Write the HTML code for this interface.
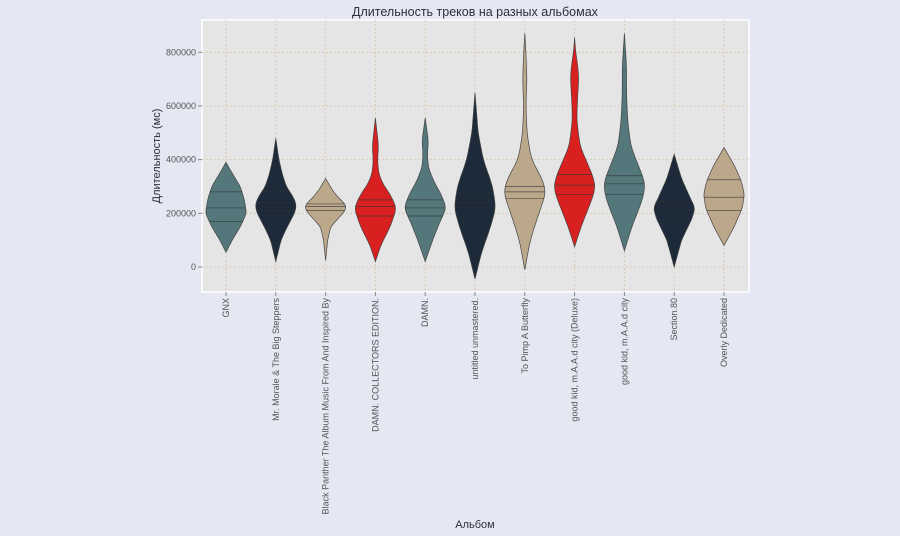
<!DOCTYPE html>
<html><head><meta charset="utf-8"><style>
html,body{margin:0;padding:0;background:#e5e7f2;overflow:hidden;width:900px;height:536px;}
svg{display:block;}
svg text{font-family:"Liberation Sans","DejaVu Sans",sans-serif;}
</style></head><body>
<svg id="s" width="900" height="536" xmlns="http://www.w3.org/2000/svg">
<rect width="900" height="536" fill="#e5e7f2"/>
<rect x="202" y="20" width="547" height="272" fill="#e5e5e5" stroke="#fff" stroke-width="1.5"/>
<text x="475" y="16" font-size="12.5" fill="#2b3140" text-anchor="middle">Длительность треков на разных альбомах</text>
<text x="475" y="528" font-size="11" fill="#2b3140" text-anchor="middle">Альбом</text>
<text transform="translate(160,156) rotate(-90)" font-size="11" fill="#2b3140" text-anchor="middle">Длительность (мс)</text>
<g id="g"></g>
</svg>
<script>
var g=document.getElementById('g'),NS='http://www.w3.org/2000/svg';
function Y(v){return 267-v*214.7/800;}
function el(t,a,txt){var e=document.createElementNS(NS,t);for(var k in a)e.setAttribute(k,a[k]);if(txt)e.textContent=txt;g.appendChild(e);return e;}
var ticks=[0,200,400,600,800];
ticks.forEach(function(t){el('line',{x1:202,x2:749,y1:Y(t),y2:Y(t),stroke:'#d9c5a8','stroke-dasharray':'2,2','stroke-width':0.8});
el('line',{x1:198,x2:202,y1:Y(t),y2:Y(t),stroke:'#888'});
el('text',{x:196,y:Y(t)+3,'font-size':9,fill:'#555','text-anchor':'end'},t?t+'000':'0');});
var T='#53777a',N='#1c2a3a',B='#bba88b',R='#d7201f';
var V=[
['GNX',T,[[55,0],[100,6],[150,14],[200,20],[250,18],[300,14],[350,6],[390,0]],[170,220,280]],
['Mr. Morale & The Big Steppers',N,[[20,0],[100,5],[150,11],[200,18],[230,20],[260,17],[300,10],[350,6],[400,3],[480,0]],[210,240,280]],
['Black Panther The Album Music From And Inspired By',B,[[25,0],[100,2],[150,5],[180,12],[210,19],[230,20],[260,12],[290,6],[330,0]],[210,225,235]],
['DAMN. COLLECTORS EDITION.',R,[[20,0],[80,5],[150,14],[220,20],[270,14],[310,7],[350,3],[400,2],[450,3],[500,1.5],[555,0]],[190,225,250]],
['DAMN.',T,[[20,0],[100,7],[170,14],[220,20],[270,15],[320,8],[370,3],[420,2],[470,3],[555,0]],[190,220,250]],
['untitled unmastered.',N,[[-45,0],[50,6],[150,15],[220,20],[300,17],[400,8],[500,3],[650,0]],[190,240,275]],
['To Pimp A Butterfly',B,[[-10,0],[100,5],[200,13],[280,20],[330,16],[400,6],[500,2],[600,1],[700,2],[800,1],[870,0]],[255,280,300]],
['good kid, m.A.A.d city (Deluxe)',R,[[75,0],[150,6],[250,16],[300,20],[350,16],[450,5],[550,2],[650,3],[700,4],[750,3],[800,1],[855,0]],[270,305,345]],
['good kid, m.A.A.d city',T,[[60,0],[150,7],[250,17],[310,20],[370,14],[450,6],[550,3],[650,2],[750,2],[870,0]],[270,310,340]],
['Section.80',N,[[0,0],[100,7],[180,17],[220,20],[260,15],[330,7],[420,0]],[175,215,245]],
['Overly Dedicated',B,[[80,0],[150,10],[220,18],[270,20],[320,17],[380,10],[445,0]],[210,260,325]]];
function lin(p,v){for(var i=0;i<p.length-1;i++){if(v>=p[i][0]&&v<=p[i+1][0]){var t=(v-p[i][0])/(p[i+1][0]-p[i][0]);return p[i][1]+(p[i+1][1]-p[i][1])*t;}}return 0;}
function prof(p,n){var lo=p[0][0],hi=p[p.length-1][0],a=[];for(var k=0;k<=n;k++)a.push(lin(p,lo+(hi-lo)*k/n));
for(var it=0;it<3;it++){var b=a.slice();for(var k=1;k<n;k++)b[k]=(a[k-1]+2*a[k]+a[k+1])/4;a=b;}
for(var it=0;it<4;it++){var b=a.slice();for(var k=3;k<n-3;k++)b[k]=(a[k-3]+a[k-2]+a[k-1]+a[k]+a[k+1]+a[k+2]+a[k+3])/7;a=b;}
return a;}
V.forEach(function(d,i){var cx=226+i*49.8;
el('line',{x1:cx,x2:cx,y1:20,y2:292,stroke:'#d9c5a8','stroke-dasharray':'2,2','stroke-width':0.8});});
V.forEach(function(d,i){var cx=226+i*49.8,p=d[2],lo=p[0][0],hi=p[p.length-1][0],n=160,a=prof(p,n),L=[],Rr=[];
var mx=Math.max.apply(null,a);
for(var k=0;k<=n;k++){var v=lo+(hi-lo)*k/n,w=a[k]*20/mx;L.push((cx-w).toFixed(1)+','+Y(v).toFixed(1));Rr.unshift((cx+w).toFixed(1)+','+Y(v).toFixed(1));}
el('path',{d:'M'+L.join('L')+'L'+Rr.join('L')+'Z',fill:d[1],stroke:'#444','stroke-width':0.7});
d[3].forEach(function(q){var k=Math.round((q-lo)/(hi-lo)*n),w=a[k]*20/mx;el('line',{x1:cx-w,x2:cx+w,y1:Y(q),y2:Y(q),stroke:'#333','stroke-width':0.7,opacity:0.8});});
el('line',{x1:cx,x2:cx,y1:292,y2:296,stroke:'#888'});
el('text',{transform:'translate('+(cx+3)+',298) rotate(-90)','font-size':9,fill:'#555','text-anchor':'end'},d[0]);});
</script>
</body></html>
